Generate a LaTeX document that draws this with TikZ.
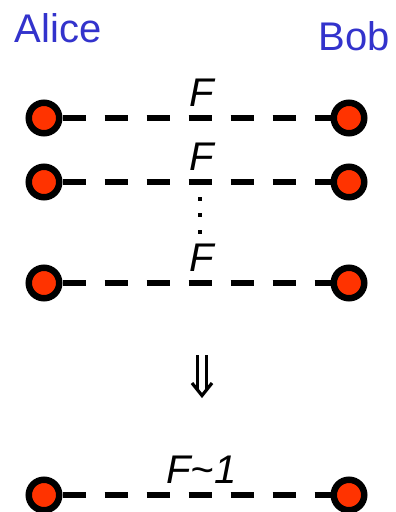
\documentclass[tikz,border=0pt]{standalone}
\usepackage{fontspec}
\setmainfont{Liberation Sans}
\usepackage{tikz}
\usetikzlibrary{positioning}
\definecolor{partyblue}{rgb}{0.2,0.2,0.8}
\definecolor{qubitred}{rgb}{1.0,0.2,0.0}
\tikzset{
	qubit/.style={
		draw, circle, line width=6.5pt, fill=qubitred,
		minimum size=30.5pt, inner sep=0pt
	},
	party/.style={
		text=partyblue, inner sep=0pt, anchor=base,
		font=\fontsize{40}{40}\selectfont
	},
	link/.style={
		line width=6pt, dash pattern=on 23pt off 19pt
	},
	fid/.style={
		anchor=base, yshift=12pt, xshift=5pt, inner sep=0pt,
		font=\fontsize{40}{40}\selectfont\itshape
	},
	implies/.style={line width=3.2pt}
}

\begin{document}
\begin{tikzpicture}[x=1pt,y=-1pt]
	\useasboundingbox (0,0) rectangle (396,512);
	\node[party] (alice) at (58,42) {Alice};
	\node[party] (bob)   at (354,50) {Bob};
	% shared pairs
	\node[qubit] (a1) at (44,118) {};
	\node[qubit] (b1) at (349,118) {};
	\node[qubit] (a2) at (44,182) {};
	\node[qubit] (b2) at (349,182) {};
	\node[qubit] (a3) at (44,283) {};
	\node[qubit] (b3) at (349,283) {};
	\draw[link] (a1) -- node[fid] {F} (b1);
	\draw[link] (a2) -- node[fid] {F} (b2);
	\draw[link] (a3) -- node[fid] {F} (b3);
	% vertical dots
	\foreach \y in {197,213,230}
		\fill (198,\y) rectangle (202,\y+4);
	% distillation step, a double arrow pointing down
	\draw[implies] (197.5,355) -- (197.5,389);
	\draw[implies] (206.5,355) -- (206.5,389);
	\draw[implies,line join=miter] (192,383) -- (202,395.5) -- (212,383);
	% distilled pair
	\node[qubit] (a4) at (44,495) {};
	\node[qubit] (b4) at (349,495) {};
	\draw[link] (a4) -- node[fid] {F{\char`\~}1} (b4);
\end{tikzpicture}
\end{document}
